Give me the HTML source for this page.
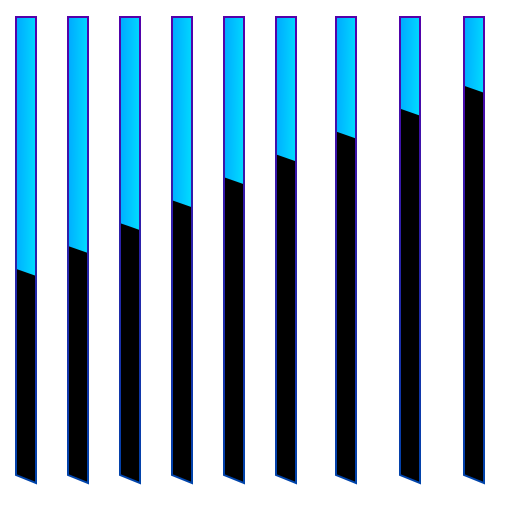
<!DOCTYPE html>
<html><head><meta charset="utf-8"><style>html,body{margin:0;padding:0;background:#fff;width:512px;height:512px;overflow:hidden}</style></head>
<body>
<svg id="chart" width="512" height="512" viewBox="0 0 512 512" xmlns="http://www.w3.org/2000/svg">
<defs>
<linearGradient id="fillTop" x1="0" y1="0" x2="1" y2="0.15">
<stop offset="0" stop-color="#00a8ff"/><stop offset="1" stop-color="#00d8ff"/></linearGradient>
<linearGradient id="edge" x1="0" y1="17" x2="0" y2="483" gradientUnits="userSpaceOnUse">
<stop offset="0" stop-color="#5500aa"/><stop offset="1" stop-color="#0044aa"/></linearGradient>
</defs>
<g id="bars"></g>
</svg>
<script>
const categories = ["A","B","C","D","E","F","G","H","I"];
const values = [45,50,55,60,65,70,75,80,85];
const maxValue = 100;
const xLefts = [16,68,120,172,224,276,336,400,464];
const W = 20, TOP = 17, BOT = 475, SLANT = 7;
function yScale(v){ return BOT - (v/maxValue)*(BOT-TOP); }
const g = document.getElementById('bars');
const NS = "http://www.w3.org/2000/svg";
categories.forEach((c,i)=>{
  const x = xLefts[i], y = yScale(values[i]);
  const top = document.createElementNS(NS,'rect');
  
  
  top.setAttribute('x', x); top.setAttribute('y', TOP);
  top.setAttribute('width', W); top.setAttribute('height', y+SLANT-TOP);
  top.setAttribute('fill', 'url(#fillTop)');
  g.appendChild(top);
  const low = document.createElementNS(NS,'polygon');
  
  
  low.setAttribute('points', `${x},${y} ${x+W},${y+SLANT} ${x+W},${BOT+SLANT+1} ${x},${BOT}`);
  low.setAttribute('fill', '#000');
  g.appendChild(low);
  const out = document.createElementNS(NS,'polygon');
  
  
  out.setAttribute('points', `${x},${TOP} ${x+W},${TOP} ${x+W},${BOT+SLANT+1} ${x},${BOT}`);
  out.setAttribute('fill', 'none');
  out.setAttribute('stroke', 'url(#edge)');
  out.setAttribute('stroke-width', '2');
  g.appendChild(out);
});
</script>
</body></html>
